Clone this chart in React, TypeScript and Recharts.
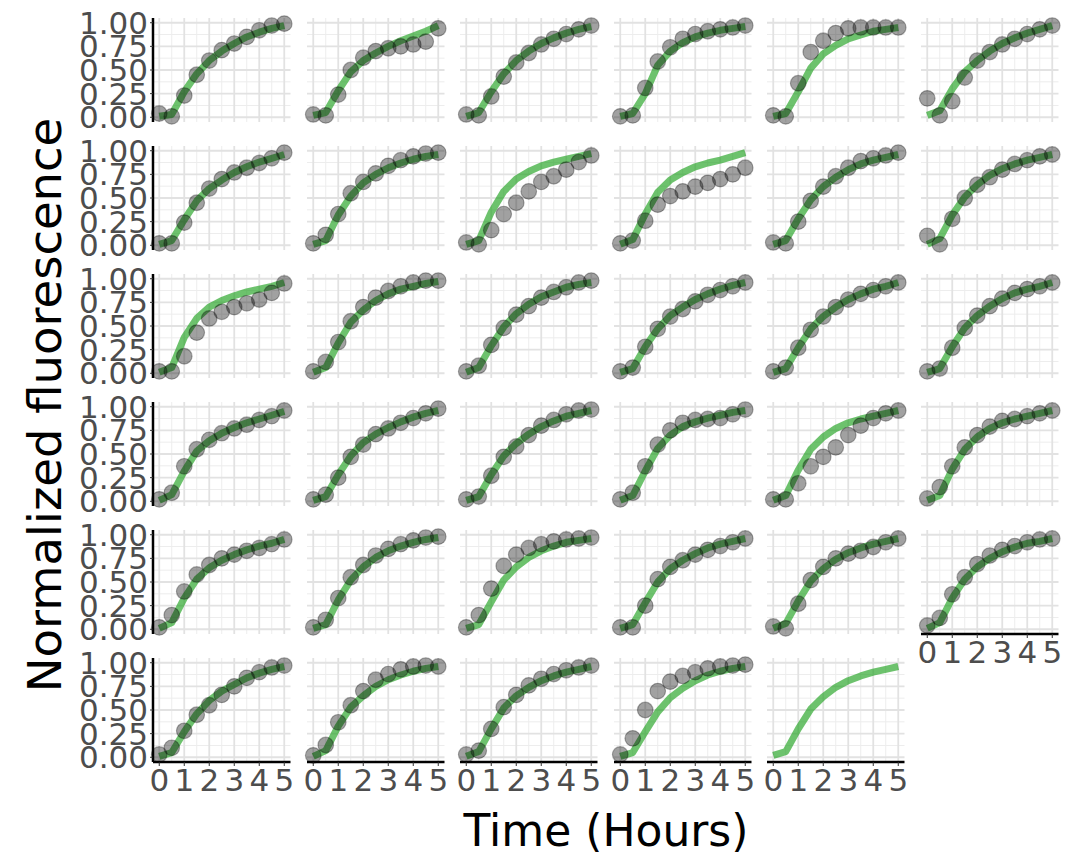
import { CartesianGrid, ComposedChart, Line, Scatter, XAxis, YAxis } from 'recharts';

// sampling times (hours) shared by every well
const times = [0, 0.5, 1, 1.5, 2, 2.5, 3, 3.5, 4, 4.5, 5];
const xTicks = [0, 1, 2, 3, 4, 5];
const xMinor = [0.5, 1.5, 2.5, 3.5, 4.5];
const yTicks = [0, 0.25, 0.5, 0.75, 1];
const yMinor = [0.125, 0.375, 0.625, 0.875];

// measured normalized fluorescence, one row per panel (last panel has no data)
const observed: (number[] | null)[] = [
  [0.04, 0.01, 0.23, 0.45, 0.6, 0.71, 0.78, 0.85, 0.92, 0.97, 0.99],
  [0.03, 0.02, 0.24, 0.5, 0.63, 0.7, 0.73, 0.75, 0.77, 0.8, 0.94],
  [0.03, 0.02, 0.22, 0.43, 0.58, 0.68, 0.77, 0.83, 0.88, 0.93, 0.97],
  [0.01, 0.02, 0.31, 0.59, 0.74, 0.83, 0.88, 0.91, 0.93, 0.95, 0.97],
  [0.02, 0.01, 0.36, 0.69, 0.81, 0.89, 0.94, 0.95, 0.95, 0.95, 0.95],
  [0.2, 0.02, 0.17, 0.42, 0.6, 0.69, 0.77, 0.83, 0.88, 0.93, 0.97],

  [0.02, 0.02, 0.24, 0.45, 0.6, 0.7, 0.77, 0.82, 0.87, 0.92, 0.98],
  [0.02, 0.11, 0.33, 0.55, 0.67, 0.76, 0.84, 0.9, 0.94, 0.97, 0.98],
  [0.03, 0.01, 0.16, 0.33, 0.45, 0.57, 0.67, 0.73, 0.8, 0.88, 0.95],
  [0.02, 0.05, 0.26, 0.43, 0.52, 0.57, 0.62, 0.66, 0.7, 0.75, 0.82],
  [0.03, 0.02, 0.25, 0.47, 0.62, 0.73, 0.82, 0.89, 0.92, 0.95, 0.98],
  [0.1, 0.01, 0.28, 0.5, 0.64, 0.72, 0.8, 0.86, 0.9, 0.94, 0.96],

  [0.02, 0.02, 0.18, 0.43, 0.58, 0.65, 0.7, 0.74, 0.78, 0.85, 0.95],
  [0.02, 0.12, 0.33, 0.55, 0.7, 0.8, 0.87, 0.92, 0.96, 0.98, 0.98],
  [0.02, 0.08, 0.3, 0.48, 0.62, 0.71, 0.8, 0.86, 0.91, 0.96, 0.98],
  [0.02, 0.06, 0.28, 0.47, 0.6, 0.68, 0.76, 0.83, 0.88, 0.92, 0.96],
  [0.02, 0.06, 0.27, 0.46, 0.6, 0.7, 0.78, 0.84, 0.88, 0.92, 0.96],
  [0.02, 0.05, 0.27, 0.48, 0.61, 0.71, 0.79, 0.85, 0.89, 0.92, 0.96],

  [0.02, 0.09, 0.37, 0.55, 0.65, 0.72, 0.77, 0.81, 0.86, 0.9, 0.96],
  [0.02, 0.07, 0.25, 0.47, 0.6, 0.71, 0.77, 0.83, 0.88, 0.93, 0.98],
  [0.02, 0.05, 0.27, 0.47, 0.58, 0.7, 0.8, 0.86, 0.92, 0.96, 0.97],
  [0.02, 0.09, 0.37, 0.6, 0.75, 0.83, 0.86, 0.87, 0.88, 0.92, 0.97],
  [0.02, 0.02, 0.19, 0.37, 0.47, 0.57, 0.7, 0.8, 0.88, 0.93, 0.96],
  [0.03, 0.15, 0.37, 0.57, 0.7, 0.79, 0.85, 0.87, 0.9, 0.93, 0.96],

  [0.02, 0.15, 0.4, 0.58, 0.68, 0.75, 0.79, 0.83, 0.86, 0.9, 0.95],
  [0.02, 0.1, 0.33, 0.55, 0.68, 0.78, 0.85, 0.9, 0.94, 0.97, 0.98],
  [0.02, 0.15, 0.43, 0.67, 0.79, 0.86, 0.9, 0.93, 0.95, 0.96, 0.97],
  [0.02, 0.02, 0.25, 0.53, 0.66, 0.73, 0.79, 0.84, 0.88, 0.92, 0.96],
  [0.03, 0.01, 0.27, 0.52, 0.66, 0.75, 0.8, 0.83, 0.87, 0.92, 0.96],
  [0.04, 0.12, 0.37, 0.55, 0.69, 0.78, 0.84, 0.88, 0.92, 0.95, 0.96],

  [0.03, 0.1, 0.28, 0.45, 0.55, 0.66, 0.75, 0.84, 0.9, 0.95, 0.97],
  [0.02, 0.13, 0.37, 0.55, 0.7, 0.82, 0.88, 0.93, 0.96, 0.97, 0.96],
  [0.03, 0.07, 0.3, 0.53, 0.66, 0.76, 0.83, 0.88, 0.92, 0.95, 0.97],
  [0.03, 0.2, 0.5, 0.7, 0.8, 0.86, 0.9, 0.94, 0.96, 0.97, 0.98],
  null,
];

// model fit for each panel
const fitted: number[][] = [
  [0.01, 0.03, 0.27, 0.46, 0.6, 0.7, 0.78, 0.85, 0.9, 0.94, 0.97],
  [0.02, 0.05, 0.28, 0.48, 0.6, 0.68, 0.75, 0.81, 0.86, 0.91, 0.97],
  [0.01, 0.05, 0.27, 0.46, 0.6, 0.7, 0.78, 0.84, 0.89, 0.93, 0.96],
  [0.01, 0.04, 0.25, 0.55, 0.7, 0.79, 0.85, 0.89, 0.92, 0.94, 0.96],
  [0.01, 0.04, 0.27, 0.52, 0.67, 0.76, 0.83, 0.87, 0.91, 0.93, 0.95],
  [0.02, 0.07, 0.3, 0.48, 0.6, 0.7, 0.78, 0.84, 0.89, 0.93, 0.97],

  [0.01, 0.05, 0.27, 0.47, 0.6, 0.69, 0.77, 0.83, 0.88, 0.92, 0.96],
  [0.01, 0.05, 0.32, 0.52, 0.66, 0.75, 0.82, 0.87, 0.91, 0.94, 0.96],
  [0.01, 0.05, 0.35, 0.57, 0.7, 0.78, 0.84, 0.88, 0.91, 0.94, 0.97],
  [0.01, 0.06, 0.33, 0.56, 0.69, 0.77, 0.83, 0.87, 0.9, 0.94, 0.98],
  [0.01, 0.05, 0.28, 0.48, 0.62, 0.72, 0.8, 0.86, 0.9, 0.93, 0.96],
  [0.01, 0.07, 0.32, 0.51, 0.64, 0.74, 0.81, 0.86, 0.9, 0.93, 0.96],

  [0.01, 0.06, 0.38, 0.58, 0.7, 0.77, 0.82, 0.86, 0.89, 0.92, 0.96],
  [0.01, 0.06, 0.32, 0.54, 0.67, 0.77, 0.84, 0.89, 0.92, 0.95, 0.97],
  [0.01, 0.06, 0.29, 0.49, 0.63, 0.73, 0.81, 0.86, 0.91, 0.94, 0.96],
  [0.01, 0.05, 0.28, 0.47, 0.61, 0.7, 0.78, 0.84, 0.89, 0.93, 0.96],
  [0.01, 0.05, 0.27, 0.47, 0.6, 0.7, 0.78, 0.84, 0.89, 0.92, 0.96],
  [0.01, 0.05, 0.28, 0.48, 0.61, 0.71, 0.79, 0.85, 0.89, 0.92, 0.96],

  [0.01, 0.07, 0.32, 0.53, 0.64, 0.72, 0.78, 0.83, 0.87, 0.91, 0.95],
  [0.01, 0.05, 0.28, 0.48, 0.62, 0.71, 0.78, 0.84, 0.89, 0.93, 0.96],
  [0.01, 0.05, 0.28, 0.48, 0.61, 0.71, 0.79, 0.85, 0.9, 0.93, 0.96],
  [0.01, 0.06, 0.32, 0.56, 0.7, 0.79, 0.84, 0.88, 0.91, 0.94, 0.96],
  [0.01, 0.06, 0.33, 0.55, 0.68, 0.77, 0.83, 0.87, 0.9, 0.93, 0.96],
  [0.01, 0.06, 0.34, 0.55, 0.68, 0.77, 0.83, 0.87, 0.9, 0.93, 0.96],

  [0.01, 0.07, 0.33, 0.53, 0.65, 0.73, 0.79, 0.84, 0.88, 0.91, 0.95],
  [0.01, 0.05, 0.31, 0.52, 0.66, 0.76, 0.83, 0.88, 0.92, 0.95, 0.97],
  [0.01, 0.05, 0.29, 0.52, 0.66, 0.76, 0.83, 0.88, 0.92, 0.94, 0.96],
  [0.01, 0.05, 0.28, 0.5, 0.64, 0.73, 0.8, 0.86, 0.9, 0.93, 0.96],
  [0.01, 0.06, 0.3, 0.51, 0.64, 0.74, 0.81, 0.86, 0.9, 0.93, 0.96],
  [0.01, 0.07, 0.33, 0.53, 0.66, 0.75, 0.82, 0.87, 0.91, 0.93, 0.96],

  [0.01, 0.05, 0.27, 0.46, 0.6, 0.7, 0.77, 0.84, 0.89, 0.93, 0.96],
  [0.01, 0.07, 0.33, 0.53, 0.65, 0.75, 0.82, 0.87, 0.91, 0.94, 0.96],
  [0.01, 0.06, 0.3, 0.52, 0.65, 0.74, 0.81, 0.86, 0.9, 0.93, 0.96],
  [0.01, 0.05, 0.27, 0.48, 0.63, 0.73, 0.81, 0.87, 0.91, 0.94, 0.96],
  [0.02, 0.06, 0.3, 0.51, 0.64, 0.74, 0.81, 0.86, 0.9, 0.93, 0.96],
];

const NCOL = 6;
const PW = 137.5;
const PH = 104;
const X0 = 153;
const Y0 = 17.5;
const DX = 153.5;
const DY = 128.1;
const PAD = 12;

const TICK_FONT = { fontSize: 31, fill: '#4d4d4d' };

function Dot(props: any) {
  const { cx, cy } = props;
  if (cx == null || cy == null) return null;
  return (
    <circle cx={cx} cy={cy} r={7.8} fill="rgba(0,0,0,0.37)" stroke="rgba(0,0,0,0.3)" strokeWidth={1.2} />
  );
}

function Panel({ index }: { index: number }) {
  const row = Math.floor(index / NCOL);
  const col = index % NCOL;
  const showY = col === 0;
  const showX = index + NCOL >= fitted.length;
  const yAxisW = 100;
  const xAxisH = 45;
  const left = showY ? yAxisW : PAD;
  const bottom = showX ? xAxisH : PAD;
  const obs = observed[index];
  const data = times.map((t, i) => ({ t, obs: obs ? obs[i] : null, fit: fitted[index][i] }));

  return (
    <div style={{ position: 'absolute', left: X0 + col * DX - left, top: Y0 + row * DY - PAD }}>
      <ComposedChart
        width={left + PW + PAD}
        height={PAD + PH + bottom}
        data={data}
        margin={{ top: PAD, right: PAD, bottom: showX ? 0 : PAD, left: showY ? 0 : PAD }}
      >
        <CartesianGrid verticalValues={xMinor} horizontalValues={yMinor} stroke="#ededed" strokeWidth={1} />
        <CartesianGrid verticalValues={xTicks} horizontalValues={yTicks} stroke="#e2e2e2" strokeWidth={1.8} />
        <XAxis
          type="number"
          dataKey="t"
          domain={[-0.25, 5.25]}
          ticks={xTicks}
          interval={0}
          hide={!showX}
          height={xAxisH}
          axisLine={{ stroke: '#000', strokeWidth: 2.5 }}
          tickLine={{ stroke: '#333' }}
          tickSize={4}
          tickMargin={3}
          tick={TICK_FONT}
        />
        <YAxis
          type="number"
          domain={[-0.05, 1.05]}
          ticks={yTicks}
          interval={0}
          hide={!showY}
          width={yAxisW}
          axisLine={{ stroke: '#000', strokeWidth: 2.5 }}
          tickLine={{ stroke: '#333' }}
          tickSize={3}
          tickMargin={2}
          tick={TICK_FONT}
          tickFormatter={(v: number) => v.toFixed(2)}
        />
        {obs && <Scatter dataKey="obs" shape={<Dot />} isAnimationActive={false} />}
        <Line
          type="linear"
          dataKey="fit"
          stroke="#22a322"
          strokeOpacity={0.66}
          strokeWidth={7}
          strokeLinejoin="round"
          dot={false}
          activeDot={false}
          isAnimationActive={false}
        />
      </ComposedChart>
    </div>
  );
}

export default function App() {
  return (
    <div
      style={{
        position: 'absolute',
        left: 0,
        top: 0,
        width: 1080,
        height: 861,
        background: '#fff',
        fontFamily: '"DejaVu Sans", sans-serif',
        overflow: 'hidden',
      }}
    >
      {fitted.map((_, i) => (
        <Panel key={i} index={i} />
      ))}
      <svg width={1080} height={861} style={{ position: 'absolute', left: 0, top: 0, pointerEvents: 'none' }}>
        <text x={606} y={846} textAnchor="middle" fontSize={44} fill="#000">
          Time (Hours)
        </text>
        <text
          x={0}
          y={0}
          transform="translate(61 405) rotate(-90)"
          textAnchor="middle"
          fontSize={46.5}
          fill="#000"
        >
          Normalized fluorescence
        </text>
      </svg>
    </div>
  );
}
